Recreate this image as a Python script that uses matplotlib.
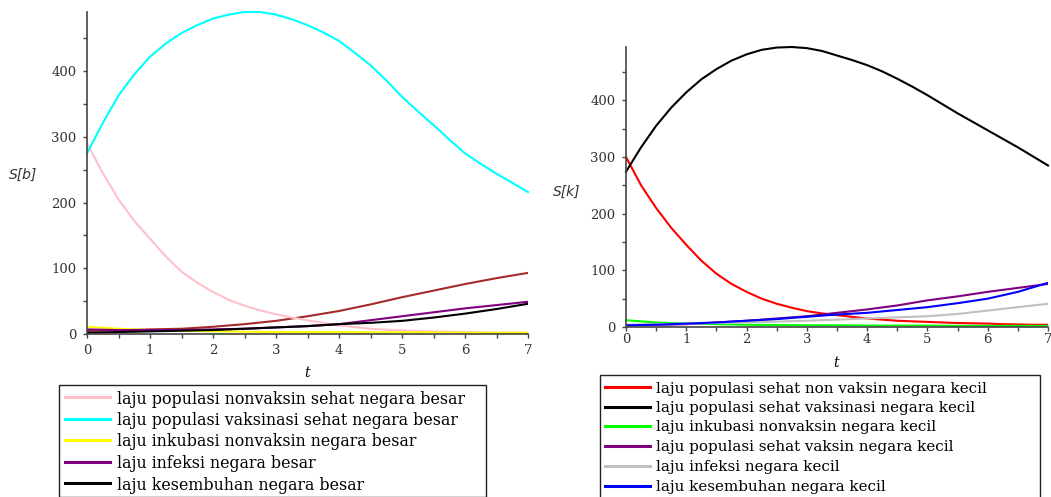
import numpy as np
import matplotlib
matplotlib.use("Agg")
import matplotlib.pyplot as plt
from matplotlib.ticker import MultipleLocator
from matplotlib.lines import Line2D
from matplotlib.patches import Rectangle

# time grids (t): fine grid for the big curves, coarse grid for the small ones
t_fine = [0, 0.25, 0.5, 0.75, 1, 1.25, 1.5, 1.75, 2, 2.25, 2.5, 2.75, 3, 3.25, 3.5,
          3.75, 4, 4.25, 4.5, 4.75, 5, 5.25, 5.5, 5.75, 6, 6.25, 6.5, 6.75, 7]
t = [0, 0.5, 1, 1.5, 2, 2.5, 3, 3.5, 4, 4.5, 5, 5.5, 6, 6.5, 7]

# left panel - negara besar
sb_nonvaksin = [290, 245, 205, 172, 145, 118, 95, 78, 64, 52, 43, 36, 30, 25, 21,
                17, 13, 10.5, 8, 6.5, 5.5, 4.5, 4, 3.5, 3, 2.5, 2, 1.8, 1.5]
sb_vaksin = [275, 321, 363, 395, 422, 442, 458, 470, 480, 486, 490, 490, 486, 479, 470,
             459, 446, 428, 409, 386, 361, 339, 318, 296, 275, 259, 244, 230, 216]
sb_inkubasi = [11, 8, 6, 5, 4, 3.5, 3, 3, 3, 2.5, 2.5, 2.5, 2, 2, 2]
sb_infeksi = [7, 6, 6, 6, 7, 8, 10, 12, 15, 21, 27, 33, 39, 44, 49]
sb_sembuh = [2, 3, 4, 5, 6, 8, 10, 12, 15, 17, 20, 25, 31, 38, 46]
sb_extra = [5, 6, 7, 8, 11, 15, 20, 27, 35, 45, 56, 66, 76, 85, 93]

# right panel - negara kecil
sk_nonvaksin = [300, 250, 210, 175, 145, 117, 94, 76, 62, 50, 41, 34, 28, 24, 21,
                18, 15, 13, 11, 10, 9, 8, 7, 6.5, 6, 5, 4.5, 4, 4]
sk_vaksinasi = [274, 317, 355, 387, 414, 437, 455, 470, 481, 489, 493, 494, 492, 487, 479,
                471, 462, 451, 438, 424, 409, 393, 377, 362, 347, 332, 317, 301, 285]
sk_inkubasi = [12, 8, 6, 5, 4, 3.5, 3, 3, 2.5, 2.5, 2.5, 2, 2, 2, 2]
sk_vaksin = [3, 4, 5, 8, 11, 15, 19, 25, 31, 38, 47, 54, 62, 69, 76]
sk_infeksi = [4, 5, 6, 7, 8, 9.5, 11, 13, 15, 17, 19, 23, 29, 35, 41]
sk_sembuh = [3, 4, 6, 8, 11, 14, 18, 22, 25, 30, 35, 42, 50, 62, 78]

left_labels = ["laju populasi nonvaksin sehat negara besar",
               "laju populasi vaksinasi sehat negara besar",
               "laju inkubasi nonvaksin negara besar",
               "laju infeksi negara besar",
               "laju kesembuhan negara besar"]
right_labels = ["laju populasi sehat non vaksin negara kecil",
                "laju populasi sehat vaksinasi negara kecil",
                "laju inkubasi nonvaksin negara kecil",
                "laju populasi sehat vaksin negara kecil",
                "laju infeksi negara kecil",
                "laju kesembuhan negara kecil"]

left_colors = ["#FFC0CB", "#00FFFF", "#FFFF00", "#800080", "black"]
right_colors = ["#FF0000", "black", "#00FF00", "#800080", "#C0C0C0", "#0000FF"]

W, H = 1051, 497
fig = plt.figure(figsize=(W / 100, H / 100), dpi=100)

serif = "DejaVu Serif"
tick_col = "#333333"
lw = 1.5


def px_axes(x0, x1, y_top, y_bot):
    return fig.add_axes([x0 / W, 1 - y_bot / H, (x1 - x0) / W, (y_bot - y_top) / H])


def style(ax, ymax, xpad):
    ax.set_xlim(0, 7)
    ax.set_ylim(0, ymax)
    for s in ["top", "right"]:
        ax.spines[s].set_visible(False)
    for s in ["left", "bottom"]:
        ax.spines[s].set_color("#444444")
        ax.spines[s].set_linewidth(1.2)
    ax.xaxis.set_major_locator(MultipleLocator(1))
    ax.xaxis.set_minor_locator(MultipleLocator(0.5))
    ax.yaxis.set_major_locator(MultipleLocator(100))
    ax.yaxis.set_minor_locator(MultipleLocator(50))
    ax.tick_params(which="both", direction="out", color="#444444", width=1, length=3)
    ax.tick_params(axis="y", which="major", labelsize=9.5, labelcolor=tick_col, pad=4.5)
    ax.tick_params(axis="x", which="major", labelsize=9.5, labelcolor=tick_col, pad=xpad)
    for lab in ax.get_xticklabels() + ax.get_yticklabels():
        lab.set_family(serif)
    ax.set_facecolor("none")


# left panel
ax1 = px_axes(87, 528, 12, 334)
ax1.plot(t, sb_extra, color="#A52A2A", lw=lw)
ax1.plot(t_fine, sb_nonvaksin, color=left_colors[0], lw=lw)
ax1.plot(t_fine, sb_vaksin, color=left_colors[1], lw=lw, clip_on=False)
ax1.plot(t, sb_inkubasi, color=left_colors[2], lw=lw)
ax1.plot(t, sb_infeksi, color=left_colors[3], lw=lw)
ax1.plot(t, sb_sembuh, color=left_colors[4], lw=lw)
style(ax1, 490, 4)

# right panel
ax2 = px_axes(626, 1048, 47, 327)
ax2.plot(t_fine, sk_nonvaksin, color=right_colors[0], lw=lw)
ax2.plot(t_fine, sk_vaksinasi, color=right_colors[1], lw=lw, clip_on=False)
ax2.plot(t, sk_inkubasi, color=right_colors[2], lw=lw)
ax2.plot(t, sk_vaksin, color=right_colors[3], lw=lw)
ax2.plot(t, sk_infeksi, color=right_colors[4], lw=lw)
ax2.plot(t, sk_sembuh, color=right_colors[5], lw=lw)
style(ax2, 494, 1)

# axis labels
fig.text(23 / W, 1 - 175 / H, "S[b]", ha="center", va="center",
         style="italic", family="DejaVu Sans", fontsize=10, color="#333333")
fig.text(567 / W, 1 - 192 / H, "S[k]", ha="center", va="center",
         style="italic", family="DejaVu Sans", fontsize=10, color="#333333")
fig.text(307 / W, 1 - 373 / H, "t", ha="center", va="center",
         style="italic", family=serif, fontsize=10, color="black")
fig.text(836 / W, 1 - 363 / H, "t", ha="center", va="center",
         style="italic", family=serif, fontsize=10, color="black")


def legend_box(x0, x1, y0, y1, hx0, hx1, tx, rows, labels, colors, fs):
    fig.add_artist(Rectangle((x0 / W, 1 - y1 / H), (x1 - x0) / W, (y1 - y0) / H,
                             transform=fig.transFigure, fill=False,
                             edgecolor="#222222", lw=1.0))
    for y, lab, c in zip(rows, labels, colors):
        fig.add_artist(Line2D([hx0 / W, hx1 / W], [1 - y / H, 1 - y / H],
                              transform=fig.transFigure, color=c, lw=2.2))
        fig.text(tx / W, 1 - y / H, lab, ha="left", va="center_baseline",
                 family=serif, fontsize=fs, color="black")


legend_box(59, 486, 385, 496.5, 65, 110, 117,
           [397, 418.5, 440, 461.5, 483], left_labels, left_colors, 11.4)
legend_box(600, 1040, 375, 500, 605, 650, 656,
           [387, 406.5, 426, 446, 466, 486], right_labels, right_colors, 10.9)

fig.savefig("out.png", dpi=100)
